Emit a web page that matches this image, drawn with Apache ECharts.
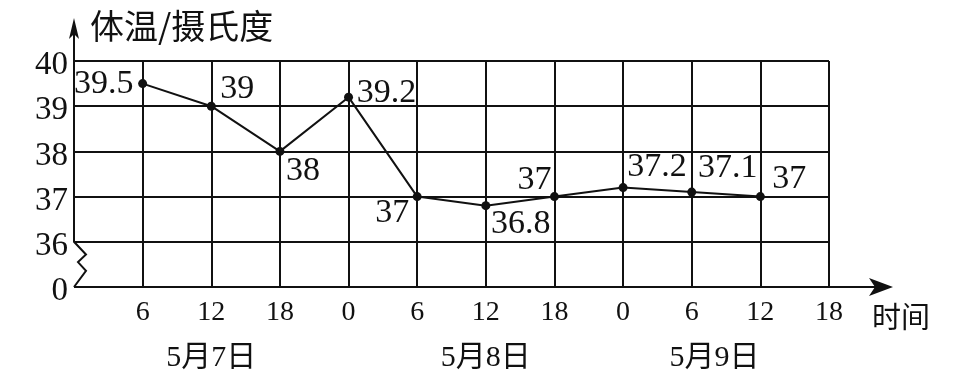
<!DOCTYPE html>
<html><head><meta charset="utf-8">
<script src="https://cdn.jsdelivr.net/npm/echarts@6/dist/echarts.min.js"></script>
<style>html,body{margin:0;padding:0;background:#fff}#c{width:964px;height:385px}</style>
</head><body><div id="c"></div>
<script>
// ---- data ----
const tickHours = [6, 12, 18, 24, 30, 36, 42, 48, 54, 60, 66];
const tickLabels = ['6', '12', '18', '0', '6', '12', '18', '0', '6', '12', '18'];
const yTickValues = [35, 36, 37, 38, 39, 40];
const yTickLabels = ['0', '36', '37', '38', '39', '40'];
const pointHours = [6, 12, 18, 24, 30, 36, 42, 48, 54, 60];
const temperatures = [39.5, 39, 38, 39.2, 37, 36.8, 37, 37.2, 37.1, 37];
const dayLabels = ['5月7日', '5月8日', '5月9日'];
const yAxisTitle = '体温/摄氏度';
const xAxisTitle = '时间';

// ---- layout / style ----
const labelOffsets = [[-39, 0], [26, -17], [23, 20], [38, -4], [-25, 16], [35, 18], [-20, -17], [34, -20], [36, -24], [29, -18]];
const dayLabelHours = [12, 36, 56];
const serif = 'Liberation Serif';
const ink = '#111';

const chart = echarts.init(document.getElementById('c'), null, { renderer: 'canvas' });
const option = {
  animation: false,
  backgroundColor: '#fff',
  grid: { left: 74, right: 135, top: 61, bottom: 98, containLabel: false },
  xAxis: {
    type: 'value', min: 0, max: 66, interval: 6,
    axisLine: { show: false }, axisTick: { show: false },
    splitLine: { show: true, showMinLine: false, lineStyle: { color: ink, width: 2 } },
    axisLabel: {
      showMinLabel: false, margin: 12, fontSize: 28, fontFamily: serif, color: ink,
      formatter: v => { const i = tickHours.indexOf(v); return i >= 0 ? tickLabels[i] : ''; }
    }
  },
  yAxis: {
    type: 'value', min: 35, max: 40, interval: 1,
    axisLine: { show: false }, axisTick: { show: false },
    splitLine: { show: true, lineStyle: { color: ink, width: 2 } },
    axisLabel: {
      margin: 6, color: ink,
      formatter: v => { const i = yTickValues.indexOf(v); return i >= 0 ? '{t|' + yTickLabels[i] + '}' : ''; },
      rich: { t: { fontSize: 33, fontFamily: serif, color: ink, padding: [9, 0, 0, 0] } }
    }
  },
  series: [{
    type: 'line',
    data: pointHours.map((h, i) => ({ value: [h, temperatures[i]], label: { offset: labelOffsets[i] } })),
    symbol: 'circle', symbolSize: 9,
    lineStyle: { color: ink, width: 2 },
    itemStyle: { color: ink },
    label: {
      show: true, position: 'inside', fontSize: 34, fontFamily: serif, color: ink,
      formatter: p => String(p.value[1])
    },
    z: 5
  }]
};
chart.setOption(option);

const P = (x, y) => chart.convertToPixel({ gridIndex: 0 }, [x, y]);
const [x0, y0] = P(0, 35);
const y36 = P(0, 36)[1];
const y40 = P(0, 40)[1];
const xEnd = P(66, 35)[0];
const tipY = y40 - 43;
const tipX = xEnd + 64;
const h = y0 - y36;

const txt = (text, x, y, font, align) => ({
  type: 'text', z: 10,
  style: { text, x, y, font, fill: ink, align, verticalAlign: 'middle', textAlign: align, textVerticalAlign: 'middle' }
});

const graphic = [
  { type: 'polyline', z: 10,
    shape: { points: [[x0, tipY + 15], [x0, y36], [x0 + 12, y36 + h * 0.28], [x0 + 4, y36 + h * 0.45], [x0 + 12, y36 + h * 0.64], [x0, y0]] },
    style: { stroke: ink, lineWidth: 2, fill: null } },
  { type: 'line', z: 10, shape: { x1: x0, y1: y0, x2: tipX - 15, y2: y0 }, style: { stroke: ink, lineWidth: 2 } },
  { type: 'polygon', z: 10, shape: { points: [[x0, tipY], [x0 + 5, tipY + 21], [x0, tipY + 16], [x0 - 5, tipY + 21]] }, style: { fill: ink } },
  { type: 'polygon', z: 10, shape: { points: [[tipX, y0], [tipX - 24, y0 - 9], [tipX - 18, y0], [tipX - 24, y0 + 9]] }, style: { fill: ink } },
  txt(yAxisTitle, 90, 26, '34px "Noto Sans CJK SC"', 'left'),
  txt(xAxisTitle, 872, 317, '29px "Noto Sans CJK SC"', 'left')
];
dayLabels.forEach((d, i) => {
  graphic.push(txt(d, P(dayLabelHours[i], 35)[0], 358, '30px "Liberation Serif", "Noto Sans CJK SC"', 'center'));
});
chart.setOption({ graphic });
</script>
</body></html>
